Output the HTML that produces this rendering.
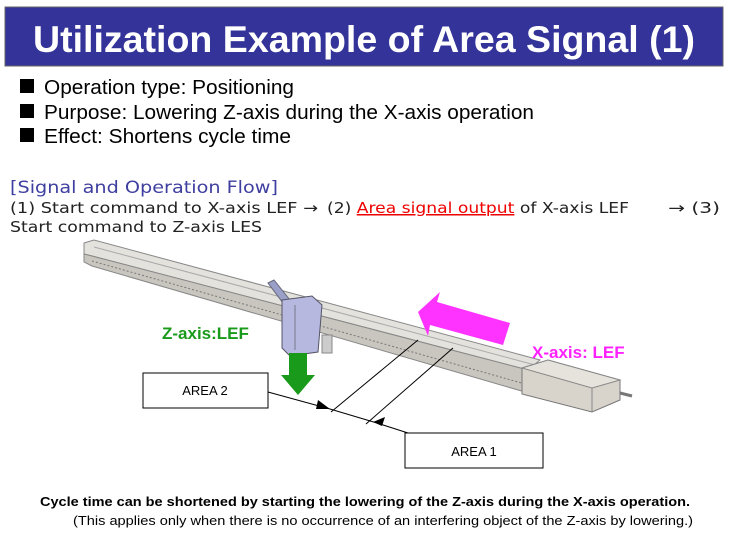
<!DOCTYPE html>
<html><head><meta charset="utf-8"><style>
html,body{margin:0;padding:0;background:#fff;}
svg{display:block;}
</style></head><body>
<svg width="730" height="540" viewBox="0 0 730 540" xmlns="http://www.w3.org/2000/svg" font-family="Liberation Sans, Arial, sans-serif">
<rect x="0" y="0" width="730" height="540" fill="#fff"/>
<rect x="5" y="7" width="718" height="59" fill="#333399" stroke="#666" stroke-width="1"/>
<text x="33" y="52" font-size="37" font-weight="bold" fill="#fff" textLength="662" lengthAdjust="spacingAndGlyphs">Utilization Example of Area Signal (1)</text>
<g font-size="20" fill="#000">
<rect x="20" y="79" width="14" height="14"/><text x="44" y="94" textLength="250" lengthAdjust="spacingAndGlyphs">Operation type: Positioning</text>
<rect x="20" y="104" width="14" height="14"/><text x="44" y="119" textLength="490" lengthAdjust="spacingAndGlyphs">Purpose: Lowering Z-axis during the X-axis operation</text>
<rect x="20" y="128" width="14" height="14"/><text x="44" y="143" textLength="247" lengthAdjust="spacingAndGlyphs">Effect: Shortens cycle time</text>
</g>
<g font-family="DejaVu Sans, sans-serif">
<text x="10" y="193" font-size="17" fill="#3f3fa0" textLength="268" lengthAdjust="spacingAndGlyphs">[Signal and Operation Flow]</text>
<text x="10" y="213" font-size="15" fill="#222" textLength="308" lengthAdjust="spacingAndGlyphs">(1) Start command to X-axis LEF →</text>
<text x="327" y="213" font-size="15" fill="#222" textLength="302" lengthAdjust="spacingAndGlyphs">(2) <tspan fill="#e00" text-decoration="underline">Area signal output</tspan> of X-axis LEF</text>
<text x="668" y="213" font-size="15" fill="#222" textLength="52" lengthAdjust="spacingAndGlyphs">→ (3)</text>
<text x="10" y="232" font-size="15" fill="#222" textLength="252" lengthAdjust="spacingAndGlyphs">Start command to Z-axis LES</text>
</g>
<!-- rail -->
<polygon points="84,243 94,240 540,360 528,370 92,256 84,254" fill="#e4e2dc" stroke="#888" stroke-width="1"/>
<polygon points="84,254 92,256 528,370 525,392 92,266 84,262" fill="#c9c6bf" stroke="#888" stroke-width="1"/>
<line x1="92" y1="261" x2="525" y2="384" stroke="#777" stroke-width="1" stroke-dasharray="2,2"/>
<line x1="94" y1="247" x2="535" y2="365" stroke="#aaa" stroke-width="1"/>
<!-- motor -->
<polygon points="522,368 548,360 620,380 620,400 592,412 522,394" fill="#d8d4cc" stroke="#777"/>
<polygon points="522,368 548,360 620,380 592,388" fill="#e6e3dc" stroke="#888"/>
<line x1="592" y1="388" x2="592" y2="412" stroke="#888"/>
<line x1="620" y1="393" x2="632" y2="396" stroke="#777" stroke-width="3"/>
<!-- carriage -->
<polygon points="268,283 274,280 290,300 283,303" fill="#9aa0c8" stroke="#667"/>
<polygon points="282,300 312,296 322,305 318,352 290,356 282,348" fill="#b6b8e0" stroke="#556"/>
<line x1="295" y1="305" x2="295" y2="350" stroke="#778"/>
<rect x="322" y="335" width="10" height="18" fill="#ccc" stroke="#888"/>
<!-- green arrow -->
<polygon points="289,353 307,353 307,375 315,375 298,395 281,375 289,375" fill="#1a9a1a"/>
<!-- magenta arrow -->
<polygon points="418,312 440,292 437,302 510,323 503,345 430,325 428,336" fill="#ff33ff"/>
<text x="162" y="339" font-size="17" font-weight="bold" fill="#1a9a1a">Z-axis:LEF</text>
<text x="532" y="358" font-size="17" font-weight="bold" fill="#ff22ff">X-axis: LEF</text>
<!-- area boxes -->
<rect x="143" y="373" width="125" height="35" fill="#fff" stroke="#000"/>
<text x="205" y="395" font-size="13" text-anchor="middle">AREA 2</text>
<rect x="405" y="433" width="138" height="35" fill="#fff" stroke="#000"/>
<text x="474" y="456" font-size="13" text-anchor="middle">AREA 1</text>
<polyline points="268,392 330,409 377,423 408,433" fill="none" stroke="#000"/>
<polygon points="330,409 318,400 316,409" fill="#000"/>
<polygon points="373,422 385,417 382,426" fill="#000"/>
<line x1="331" y1="412" x2="418" y2="340" stroke="#000"/>
<line x1="366" y1="424" x2="453" y2="348" stroke="#000"/>
<text x="365" y="506" font-size="13" font-weight="bold" text-anchor="middle" textLength="650" lengthAdjust="spacingAndGlyphs">Cycle time can be shortened by starting the lowering of the Z-axis during the X-axis operation.</text>
<text x="73" y="525" font-size="13" textLength="620" lengthAdjust="spacingAndGlyphs">(This applies only when there is no occurrence of an interfering object of the Z-axis by lowering.)</text>
</svg>
</body></html>
